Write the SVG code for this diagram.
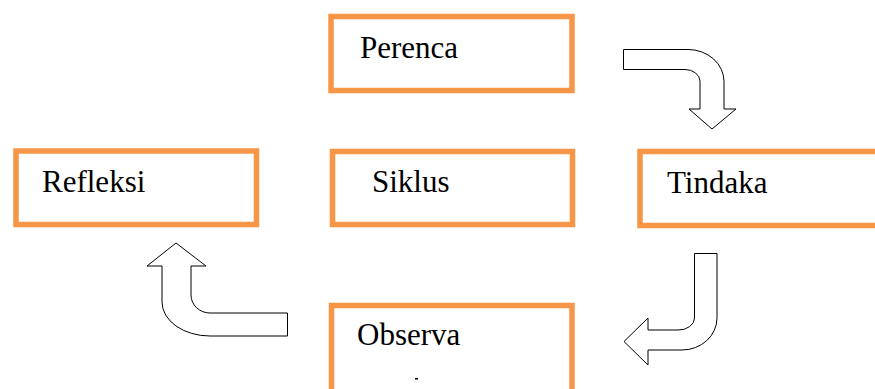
<svg xmlns="http://www.w3.org/2000/svg" width="875" height="389" viewBox="0 0 875 389">
  <style>
    .box { fill: #ffffff; stroke: #F79646; stroke-width: 5.5; }
    .label { font-family: "Liberation Serif", "Times New Roman", serif; font-size: 31px; fill: #000000; }
    .arrow { fill: #ffffff; stroke: #000000; stroke-width: 1; stroke-linejoin: miter; }
  </style>
  <rect width="875" height="389" fill="#ffffff"/>

  <g id="node-perenca">
    <rect class="box" x="331" y="16.5" width="241" height="74"/>
    <text class="label" x="360" y="58">Perenca</text>
  </g>

  <g id="node-refleksi">
    <rect class="box" x="16" y="151" width="240.5" height="73.5"/>
    <text class="label" x="42" y="192">Refleksi</text>
  </g>

  <g id="node-siklus">
    <rect class="box" x="332.5" y="151.5" width="240" height="73"/>
    <text class="label" x="372" y="192">Siklus</text>
  </g>

  <g id="node-tindaka">
    <rect class="box" x="640" y="151.5" width="260" height="74"/>
    <text class="label" x="667" y="193">Tindaka</text>
  </g>

  <g id="node-observa">
    <rect class="box" x="331.5" y="305.5" width="240.5" height="110"/>
    <text class="label" x="357" y="345">Observa</text>
    <rect x="415" y="378" width="3" height="1.5" fill="#000000"/>
  </g>

  <g id="connectors">
    <!-- Perenca to Tindaka: right then down -->
    <path class="arrow" d="M623.5,49.5 L688,49.5 A36,32 0 0 1 724,81.5 L724,109 L736,109 L712,129 L689,109 L700,109 L700,81 A15,12 0 0 0 685,69.5 L623.5,69.5 Z"/>
    <!-- Tindaka to Observa: down then left -->
    <path class="arrow" d="M694.5,253.5 L717,253.5 L717,318 A35,32 0 0 1 682,350 L648,350 L648,365 L624,341.5 L648,318 L648,330 L678,330 A16,12 0 0 0 694.5,318 Z"/>
    <!-- Observa to Refleksi: left then up -->
    <path class="arrow" d="M287.5,313 L287.5,336 L210,336 A48,34 0 0 1 162,302 L162,266 L147,266 L176,243 L206,266 L191,266 L191,295 A19,18 0 0 0 210,313 Z"/>
  </g>
</svg>
